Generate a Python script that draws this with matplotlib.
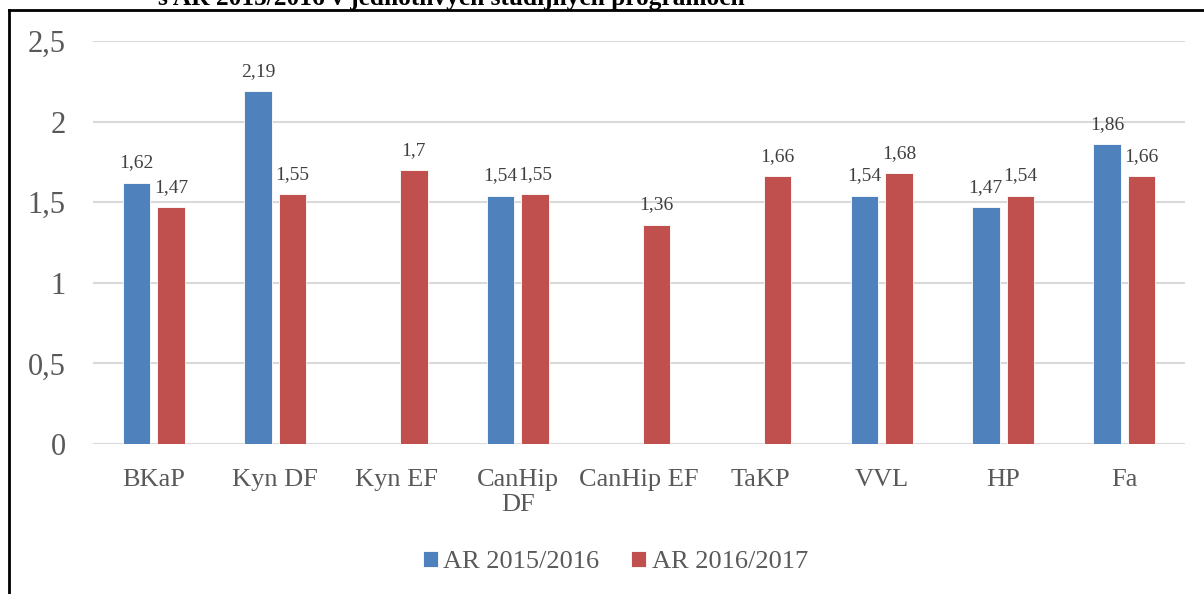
import matplotlib.pyplot as plt
from matplotlib.lines import Line2D
import numpy as np

# Data
PROGRAMS = ['BKaP', 'Kyn DF', 'Kyn EF', 'CanHip\nDF', 'CanHip EF',
            'TaKP', 'VVL', 'HP', 'Fa']
AR_2015 = [1.62, 2.19, None, 1.54, None, None, 1.54, 1.47, 1.86]
AR_2016 = [1.47, 1.55, 1.70, 1.55, 1.36, 1.66, 1.68, 1.54, 1.66]
SERIES_LABELS = ['AR 2015/2016', 'AR 2016/2017']
Y_TICKS = [0, 0.5, 1, 1.5, 2, 2.5]
TITLE = 's AR 2015/2016 v jednotlivých študijných programoch'

BLUE = '#4F81BD'
RED = '#C0504D'
GREY_TEXT = '#595959'
LABEL_TEXT = '#404040'
BAR_WIDTH = 0.227
OFFSET = 0.142

W, H = 1204, 594


def fmt(v):
    """Slovak style number with decimal comma."""
    s = ('%.2f' % v).rstrip('0').rstrip('.')
    return s.replace('.', ',')


def draw_series(ax, x, values, color, label):
    xs = [xi for xi, v in zip(x, values) if v is not None]
    vs = [v for v in values if v is not None]
    ax.bar(xs, vs, BAR_WIDTH, color=color, edgecolor='white',
           linewidth=0.6, label=label, zorder=3)
    for xi, v in zip(xs, vs):
        ax.annotate(fmt(v), (xi, v), xytext=(0, 11), textcoords='offset points',
                    ha='center', va='baseline', fontsize=14, color=LABEL_TEXT)


def main():
    plt.rcParams['font.family'] = ['Liberation Serif', 'DejaVu Serif']
    fig = plt.figure(figsize=(W / 100, H / 100), dpi=100)
    ax = fig.add_axes([93.3 / W, (H - 444) / H, (1185 - 93.3) / W, (444 - 41) / H])

    x = np.arange(len(PROGRAMS))
    draw_series(ax, x - OFFSET, AR_2015, BLUE, SERIES_LABELS[0])
    draw_series(ax, x + OFFSET, AR_2016, RED, SERIES_LABELS[1])

    ax.set_xlim(-0.5, len(PROGRAMS) - 0.5)
    ax.set_ylim(0, 2.5)
    ax.set_yticks(Y_TICKS)
    ax.set_yticklabels([fmt(t) for t in Y_TICKS])
    ax.set_xticks(x)
    ax.set_xticklabels(PROGRAMS, linespacing=1.2)
    ax.tick_params(axis='y', length=0, pad=20, labelsize=22, labelcolor=GREY_TEXT)
    ax.tick_params(axis='x', length=0, pad=18, labelsize=19, labelcolor=GREY_TEXT)
    ax.yaxis.grid(True, color='#D9D9D9', linewidth=1.5, zorder=0)
    ax.set_axisbelow(True)
    for s in ax.spines.values():
        s.set_visible(False)

    leg = fig.legend(loc='center', bbox_to_anchor=(615.5 / W, (H - 562) / H),
                     ncol=2, frameon=False, fontsize=19,
                     handlelength=0.57, handleheight=0.57,
                     handletextpad=0.2, columnspacing=1.2)
    for t in leg.get_texts():
        t.set_color(GREY_TEXT)

    # outer frame (only top and left edges visible)
    fig.add_artist(Line2D([8.5 / W, 8.5 / W], [0, (H - 9.5) / H],
                          color='black', linewidth=2, transform=fig.transFigure))
    fig.add_artist(Line2D([8.5 / W, 1], [(H - 9.5) / H, (H - 9.5) / H],
                          color='black', linewidth=2, transform=fig.transFigure))

    # title, cut off at the top edge as in the source
    fig.text(158 / W, (H - 5) / H, TITLE, ha='left', va='baseline',
             fontsize=18.3, fontweight='bold', color='black')

    fig.savefig('out.png', dpi=100)


if __name__ == '__main__':
    main()
